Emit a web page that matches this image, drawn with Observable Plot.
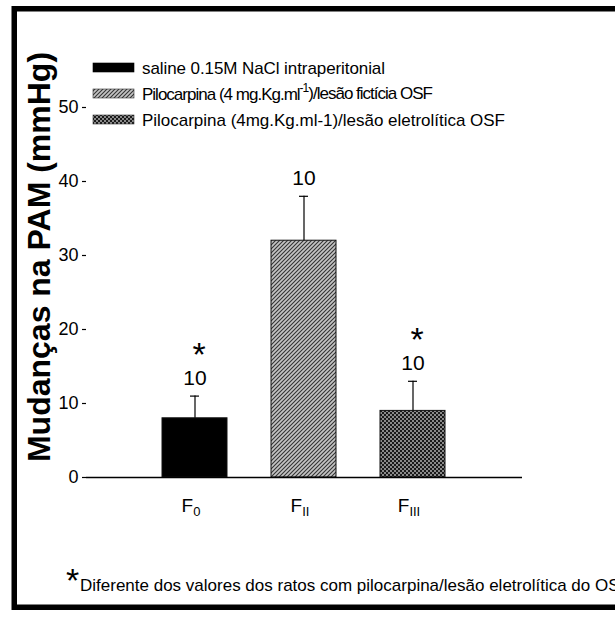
<!DOCTYPE html>
<html><head><meta charset="utf-8">
<script src="https://cdn.jsdelivr.net/npm/d3@7"></script>
<script src="https://cdn.jsdelivr.net/npm/@observablehq/plot@0.6"></script>
<style>
body{margin:0;background:#fff;}
#chart{position:relative;width:615px;height:619px;overflow:hidden;}
</style></head><body><div id="chart"></div>
<script>
// ---- data ----
const groups = ["F0", "FII", "FIII"];
const groupMain = ["F", "F", "F"];
const groupSub = ["0", "II", "III"];
const means = [8, 32, 9];
const errors = [3, 6, 4];
const nLabels = ["10", "10", "10"];
const sigMarks = ["*", "", "*"];
const yTicks = [0, 10, 20, 30, 40, 50];
const yLabel = "Mudanças na PAM (mmHg)";
const legendLabels = [
  [["saline 0.15M NaCl intraperitonial", false]],
  [["Pilocarpina (4 mg.Kg.ml", false], ["-1", true], [")/lesão fictícia OSF", false]],
  [["Pilocarpina (4mg.Kg.ml-1)/lesão eletrolítica OSF", false]]
];
const fills = ["black", "url(#hatch)", "url(#check)"];
const captionMark = "*";
const caption = "Diferente dos valores dos ratos com pilocarpina/lesão eletrolítica do OSF";

const data = groups.map((g, i) => ({group: g, mean: means[i], top: means[i] + errors[i], n: nLabels[i], mark: sigMarks[i]}));

const font = "'Liberation Sans', Arial, Helvetica, sans-serif";
const legendWidths = [243, 291, 363];

const svg = Plot.plot({
  width: 615, height: 619,
  marginLeft: 86, marginRight: 93, marginTop: 70, marginBottom: 142,
  style: {fontFamily: font, background: "white", color: "black", overflow: "hidden"},
  x: {domain: groups, paddingInner: 0.4, paddingOuter: 0.7, label: null},
  y: {domain: [0, 55], label: null},
  color: {domain: groups, range: fills},
  marks: [
    Plot.axisY({ticks: yTicks, tickSize: 4, tickPadding: 4, fontSize: 18, label: null, line: true, strokeWidth: 1.2}),
    Plot.axisX({tickSize: 0, tickPadding: 21, fontSize: 19, label: null, dx: -4}),
    Plot.barY(data, {x: "group", y: "mean", fill: "group", stroke: "#111", strokeWidth: 1}),
    Plot.ruleX(data, {x: "group", y1: "mean", y2: "top", stroke: "black", strokeWidth: 1.2}),
    Plot.tickY(data, {x: "group", y: "top", insetLeft: 28, insetRight: 28, stroke: "black", strokeWidth: 1.2}),
    Plot.text(data, {x: "group", y: "top", text: "n", dy: -18, fontSize: 21}),
    Plot.text(data.filter(d => d.mark), {x: "group", y: "top", text: "mark", dy: -41, fontSize: 34, dx: 4}),
    Plot.ruleY([0], {stroke: "black", strokeWidth: 1.5})
  ]
});

const s = d3.select(svg);
// patterns
const defs = s.insert("defs", ":first-child");
const h = defs.append("pattern").attr("id", "hatch").attr("patternUnits", "userSpaceOnUse").attr("width", 4).attr("height", 4);
h.append("rect").attr("width", 4).attr("height", 4).attr("fill", "#c4c4c4");
h.append("path").attr("d", "M-1,1 l2,-2 M0,4 l4,-4 M3,5 l2,-2").attr("stroke", "#333").attr("stroke-width", 1.1);
const c = defs.append("pattern").attr("id", "check").attr("patternUnits", "userSpaceOnUse").attr("width", 4).attr("height", 4);
c.append("rect").attr("width", 4).attr("height", 4).attr("fill", "#1a1a1a");
c.append("rect").attr("x", 0).attr("y", 0).attr("width", 2).attr("height", 2).attr("fill", "#8a8a8a");
c.append("rect").attr("x", 2).attr("y", 2).attr("width", 2).attr("height", 2).attr("fill", "#8a8a8a");

// subscripted x tick labels
s.selectAll('[aria-label="x-axis tick label"] text').each(function (d, i) {
  const t = d3.select(this);
  const idx = groups.indexOf(t.text()) >= 0 ? groups.indexOf(t.text()) : i;
  t.text(null);
  t.append("tspan").text(groupMain[idx]);
  t.append("tspan").attr("font-size", 13).attr("dy", "0.3em").text(groupSub[idx]);
});

// y label
s.append("text")
  .attr("transform", "translate(50,257) rotate(-90)")
  .attr("text-anchor", "middle")
  .attr("font-family", font).attr("font-weight", "bold").attr("font-size", 32)
  .text(yLabel);

// legend
const lg = s.append("g").attr("font-family", font).attr("font-size", 17).attr("text-anchor", "start");
legendLabels.forEach((parts, i) => {
  const cy = 67.5 + i * 26;
  lg.append("rect").attr("x", 93).attr("y", cy - 4.5).attr("width", 41).attr("height", 9)
    .attr("fill", fills[i]).attr("stroke", i === 0 ? "black" : "#333").attr("stroke-width", 0.6);
  const t = lg.append("text").attr("x", 142).attr("y", cy + 6)
    .attr("textLength", legendWidths[i]).attr("lengthAdjust", "spacing");
  parts.forEach(([txt, sup], k) => {
    const sp = t.append("tspan").text(txt);
    if (sup) sp.attr("font-size", 12).attr("dy", "-0.6em");
    else if (k > 0) sp.attr("dy", "0.42em");
  });
});

// caption
const cap = s.append("g").attr("font-family", font).attr("text-anchor", "start");
cap.append("text").attr("x", 66).attr("y", 592).attr("font-size", 34).text(captionMark);
cap.append("text").attr("x", 80).attr("y", 591).attr("font-size", 17)
  .attr("letter-spacing", 0).text(caption);

// frame border
s.append("rect").attr("x", 14.25).attr("y", 8.75).attr("width", 700).attr("height", 598.5)
  .attr("fill", "none").attr("stroke", "black").attr("stroke-width", 5.5);

document.getElementById("chart").appendChild(svg);
</script></body></html>
